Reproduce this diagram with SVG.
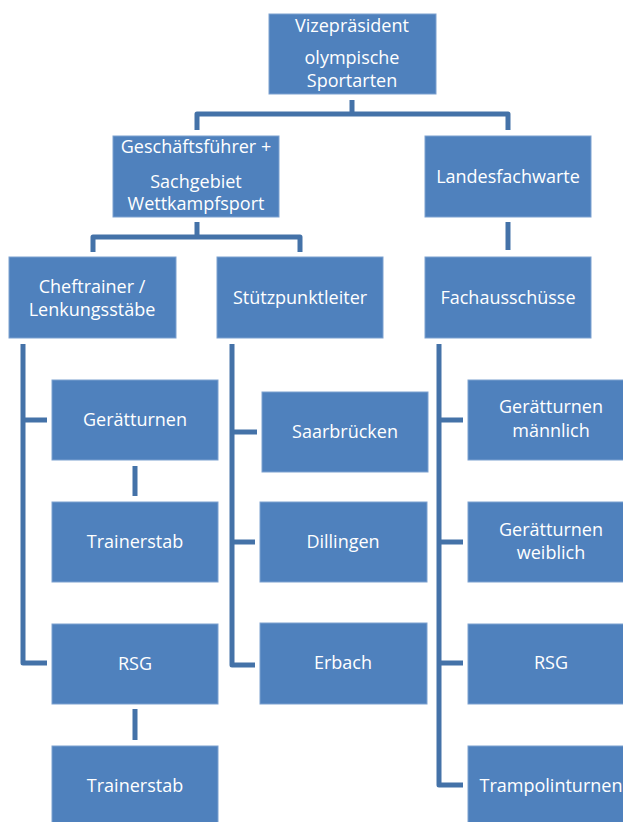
<svg xmlns="http://www.w3.org/2000/svg" width="623" height="822" viewBox="0 0 623 822">
<style>
.box{fill:#4f81bd;stroke:#7da1d0;stroke-width:1}
.t{fill:#ffffff;font-family:"Open Sans","Noto Sans",sans-serif;font-size:18px;text-anchor:middle}
.c{fill:none;stroke:#4472a8;stroke-width:5;stroke-linejoin:round}
</style>
<rect width="623" height="822" fill="#ffffff"/>
<g id="connectors">
<path class="c" d="M352,100 V114 M197,130 V114 H508 V130"/>
<path class="c" d="M197,222 V237 M93,252 V237 H300 V252"/>
<path class="c" d="M508,222 V250"/>
<path class="c" d="M23,344 V663 H47 M23,420 H47"/>
<path class="c" d="M135,466 V496 M135,709 V740"/>
<path class="c" d="M232,344 V665 H255 M232,432 H257 M232,542 H255"/>
<path class="c" d="M439,344 V785 H463 M439,420 H463 M439,542 H463 M439,663 H463"/>
</g>
<g id="vp"><rect class="box" x="269" y="14" width="167" height="80"/><text class="t" x="352" y="32">Vizepräsident</text><text class="t" x="352" y="64">olympische</text><text class="t" x="352" y="87">Sportarten</text></g>
<g id="gf"><rect class="box" x="113" y="136" width="166" height="81"/><text class="t" x="196" y="153">Geschäftsführer +</text><text class="t" x="196" y="188">Sachgebiet</text><text class="t" x="196" y="210">Wettkampfsport</text></g>
<g id="lfw"><rect class="box" x="425" y="136" width="166" height="81"/><text class="t" x="508" y="183">Landesfachwarte</text></g>
<g id="cheftrainer"><rect class="box" x="9" y="257" width="167" height="81"/><text class="t" x="92" y="293">Cheftrainer /</text><text class="t" x="92" y="316">Lenkungsstäbe</text></g>
<g id="stuetzpunkt"><rect class="box" x="217" y="257" width="166" height="81"/><text class="t" x="300" y="304">Stützpunktleiter</text></g>
<g id="fach"><rect class="box" x="425" y="257" width="166" height="81"/><text class="t" x="508" y="304">Fachausschüsse</text></g>
<g id="geraet1"><rect class="box" x="52" y="380" width="166" height="80"/><text class="t" x="135" y="426">Gerätturnen</text></g>
<g id="trainer1"><rect class="box" x="52" y="502" width="166" height="80"/><text class="t" x="135" y="548">Trainerstab</text></g>
<g id="rsg1"><rect class="box" x="52" y="624" width="166" height="80"/><text class="t" x="135" y="670">RSG</text></g>
<g id="trainer2"><rect class="box" x="52" y="746" width="166" height="80"/><text class="t" x="135" y="792">Trainerstab</text></g>
<g id="saar"><rect class="box" x="262" y="392" width="166" height="80"/><text class="t" x="345" y="438">Saarbrücken</text></g>
<g id="dill"><rect class="box" x="260" y="502" width="167" height="80"/><text class="t" x="343" y="548">Dillingen</text></g>
<g id="erbach"><rect class="box" x="260" y="623" width="167" height="81"/><text class="t" x="343" y="669">Erbach</text></g>
<g id="gm"><rect class="box" x="468" y="380" width="166" height="80"/><text class="t" x="551" y="413">Gerätturnen</text><text class="t" x="551" y="437">männlich</text></g>
<g id="gw"><rect class="box" x="468" y="502" width="166" height="80"/><text class="t" x="551" y="536">Gerätturnen</text><text class="t" x="551" y="559">weiblich</text></g>
<g id="rsg2"><rect class="box" x="468" y="624" width="166" height="80"/><text class="t" x="551" y="669">RSG</text></g>
<g id="tramp"><rect class="box" x="468" y="746" width="166" height="80"/><text class="t" x="551" y="792">Trampolinturnen</text></g>
</svg>
